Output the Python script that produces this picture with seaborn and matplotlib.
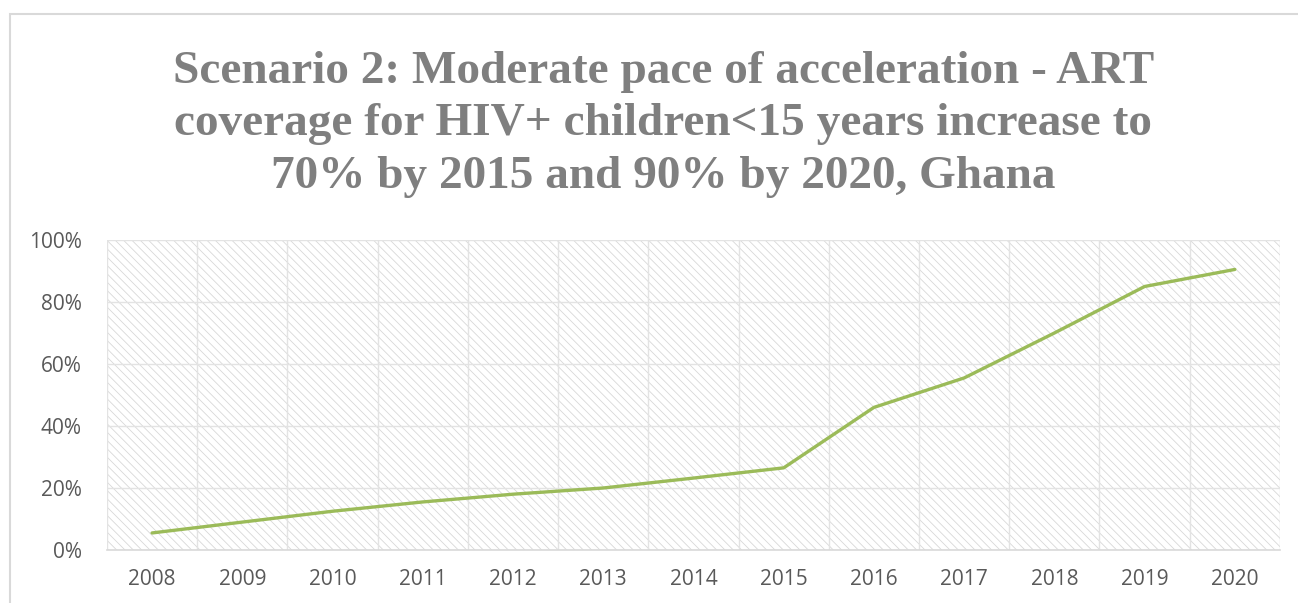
import numpy as np
import pandas as pd
import matplotlib
matplotlib.use("Agg")
import matplotlib.pyplot as plt
from matplotlib.patches import Rectangle
from matplotlib.ticker import PercentFormatter
import seaborn as sns

years = [2008, 2009, 2010, 2011, 2012, 2013, 2014, 2015, 2016, 2017, 2018, 2019, 2020]
coverage = [5.5, 9.0, 12.5, 15.5, 18.0, 20.0, 23.2, 26.5, 46.0, 55.5, 70.0, 85.0, 90.5]
y_ticks = [0, 20, 40, 60, 80, 100]

title = ("Scenario 2: Moderate pace of acceleration - ART\n"
         "coverage for HIV+ children<15 years increase to\n"
         "70% by 2015 and 90% by 2020, Ghana")

df = pd.DataFrame({"year": years, "coverage": coverage})

sns.set_style("white")
plt.rcParams["hatch.linewidth"] = 0.6
plt.rcParams["hatch.color"] = "#d8d8d8"

fig = plt.figure(figsize=(12.98, 6.03), dpi=100)
ax = fig.add_axes([0.0824, 0.0879, 0.9037, 0.5141])

# chart outer frame
fig.patches.append(Rectangle((10 / 1298, -0.1), 1.2, (603 - 14) / 603 + 0.1,
                             transform=fig.transFigure, fill=False,
                             edgecolor="#d9d9d9", linewidth=1.5))

# hatched plot area
ax.add_patch(Rectangle((0, 0), 1, 1, transform=ax.transAxes, facecolor="white",
                       edgecolor="#d8d8d8", hatch="\\\\\\\\", linewidth=0, zorder=0))

sns.lineplot(data=df, x="year", y="coverage", ax=ax, color="#9bbb59",
             linewidth=2.4, zorder=3)

ax.set_xlim(2007.5, 2020.5)
ax.set_ylim(0, 100)
ax.set_xticks(years)
ax.set_xticks(np.arange(2007.5, 2021, 1), minor=True)
ax.set_yticks(y_ticks)
ax.yaxis.set_major_formatter(PercentFormatter(decimals=0))
ax.grid(False)
ax.grid(which="minor", axis="x", color="#e3e3e3", linewidth=1)
ax.grid(which="major", axis="y", color="#e3e3e3", linewidth=1)
ax.set_axisbelow(True)
for s in ["top", "right", "left"]:
    ax.spines[s].set_visible(False)
ax.spines["bottom"].set_color("#d9d9d9")
ax.spines["bottom"].set_linewidth(1.2)
ax.set_xlabel("")
ax.set_ylabel("")
ax.tick_params(axis="both", which="both", length=0, colors="#595959")
ax.tick_params(axis="x", pad=14)
ax.tick_params(axis="y", pad=18)
for lab in ax.get_xticklabels() + ax.get_yticklabels():
    lab.set_fontfamily("Open Sans")
    lab.set_fontsize(15)

fig.text(0.511, 0.915, title, ha="center", va="top", fontsize=34,
         fontweight="bold", family="Liberation Serif", color="#7f7f7f",
         linespacing=1.32)

fig.savefig("out.png", dpi=100)
